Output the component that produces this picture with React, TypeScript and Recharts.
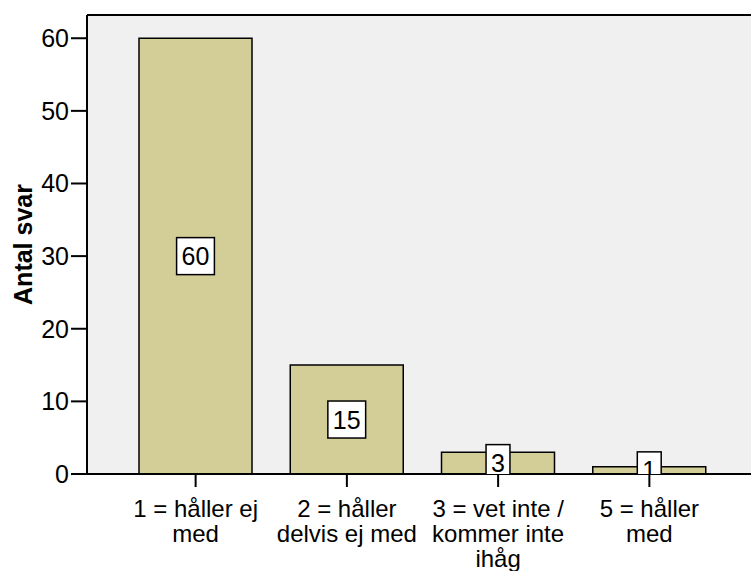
import { Bar, BarChart, CartesianGrid, LabelList, ReferenceLine, XAxis, YAxis } from 'recharts'

const categories = [
  '1 = håller ej\nmed',
  '2 = håller\ndelvis ej med',
  '3 = vet inte /\nkommer inte\nihåg',
  '5 = håller\nmed',
]
const counts = [60, 15, 3, 1]
const yTicks = [0, 10, 20, 30, 40, 50, 60]
const yMax = 63.2
const yTitle = 'Antal svar'

const data = categories.map((name, i) => ({ name, count: counts[i] }))

const font = '"Liberation Sans", Arial, sans-serif'
const fontSize = 25

// one <text> per line so the wrapped labels keep their own boxes
function CategoryTick(props: any) {
  const { x, y, payload } = props
  const lines = String(payload.value).split('\n')
  return (
    <g>
      {lines.map((line, i) => (
        <text
          key={i}
          x={x}
          y={y + 28 + i * 25}
          textAnchor='middle'
          fontSize={24}
          fill='#000'
          fontFamily={font}
        >
          {line}
        </text>
      ))}
    </g>
  )
}

// white value box in the middle of the bar, cut off at the baseline
function ValueBox(props: any) {
  const { x, y, width, height, value, index } = props
  const cx = x + width / 2
  const cy = y + height / 2
  const base = y + height
  const boxW = String(value).length * 13.9 + 10
  const boxH = 37
  const id = `value-clip-${index}`
  return (
    <g>
      <defs>
        <clipPath id={id}>
          <rect x={cx - boxW} y={cy - 60} width={boxW * 2} height={base - (cy - 60)} />
        </clipPath>
      </defs>
      <g clipPath={`url(#${id})`}>
        <rect x={cx - boxW / 2} y={cy - boxH / 2} width={boxW} height={boxH} fill='#fff' stroke='#000' strokeWidth={1.5} />
        <text x={cx} y={cy} textAnchor='middle' dominantBaseline='central' fontSize={fontSize} fill='#000' fontFamily={font}>
          {value}
        </text>
      </g>
    </g>
  )
}

function YTitle(props: any) {
  const vb = props.viewBox || {}
  const cx = (vb.x ?? 0) + 23
  const cy = (vb.y ?? 0) + (vb.height ?? 0) / 2
  return (
    <text
      x={cx}
      y={cy}
      transform={`rotate(-90, ${cx}, ${cy})`}
      textAnchor='middle'
      dominantBaseline='central'
      fontSize={fontSize}
      fontWeight='bold'
      fill='#000'
      fontFamily={font}
    >
      {yTitle}
    </text>
  )
}

export default function App() {
  return (
    <div
      style={{
        position: 'absolute',
        left: 0,
        top: 0,
        width: 751,
        height: 571,
        overflow: 'hidden',
        background: '#fff',
        fontFamily: font,
      }}
    >
      <BarChart
        width={758}
        height={571}
        data={data}
        margin={{ top: 15, right: 0, bottom: 0, left: 0 }}
        barCategoryGap={19}
      >
        <CartesianGrid fill='#f0f0f0' horizontal={false} vertical={false} />
        <YAxis
          width={87}
          domain={[0, yMax]}
          ticks={yTicks}
          allowDataOverflow
          tickSize={16}
          tickMargin={2}
          axisLine={{ stroke: '#000', strokeWidth: 2 }}
          tickLine={{ stroke: '#000', strokeWidth: 2 }}
          tick={{ fill: '#000', fontSize, fontFamily: font }}
          label={<YTitle />}
        />
        <ReferenceLine y={yMax} stroke='#000' strokeWidth={2} />
        <Bar dataKey='count' fill='#d3ce97' stroke='#000' strokeWidth={1.5} isAnimationActive={false}>
          <LabelList dataKey='count' content={<ValueBox />} />
        </Bar>
        <XAxis
          dataKey='name'
          height={97}
          interval={0}
          padding={{ left: 33, right: 33 }}
          tickSize={13}
          axisLine={{ stroke: '#000', strokeWidth: 2 }}
          tickLine={{ stroke: '#000', strokeWidth: 2 }}
          tick={<CategoryTick />}
        />
      </BarChart>
    </div>
  )
}
